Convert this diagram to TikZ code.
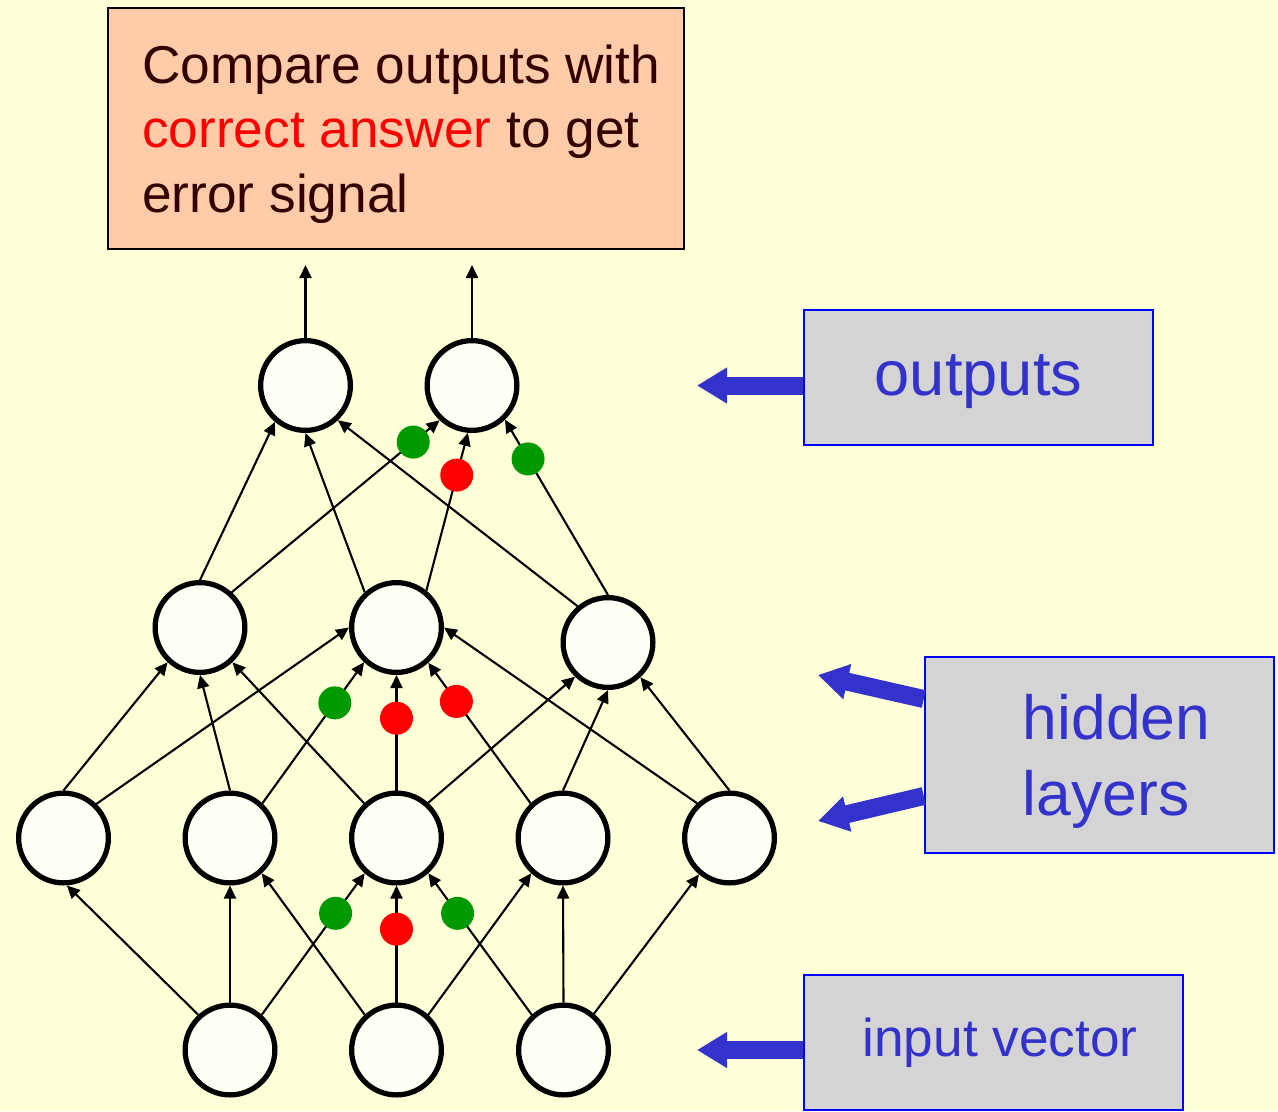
\documentclass[tikz,border=0pt]{standalone}
\usepackage{fontspec}
\setmainfont{Liberation Sans}
\usetikzlibrary{arrows.meta,calc}
\definecolor{bgc}{HTML}{FFFFD8}
\definecolor{peach}{HTML}{FFCBA9}
\definecolor{lblgray}{HTML}{D4D4D4}
\definecolor{lblblue}{HTML}{3333CC}
\definecolor{boxblue}{HTML}{0000FF}
\definecolor{dkred}{HTML}{330000}
\definecolor{dgreen}{HTML}{009900}
\definecolor{neuronfill}{HTML}{FFFFF5}
\begin{document}
\begin{tikzpicture}[x=0.2mm,y=-0.2mm,
  neuron/.style={circle,draw=black,line width=1.05mm,fill=neuronfill,minimum size=17.95mm,inner sep=0pt},
  edge/.style={line width=0.42mm,-{Triangle[length=2.6mm,width=2.4mm]}},
  gdot/.style={circle,fill=dgreen,minimum size=6.6mm,inner sep=0pt},
  rdot/.style={circle,fill=red,minimum size=6.6mm,inner sep=0pt},
  lblbox/.style={draw=boxblue,line width=0.5mm,fill=lblgray,text=lblblue,inner sep=0pt},
  bluearrow/.style={draw=lblblue,line width=3.6mm,-{Triangle[length=6mm,width=6.8mm]}},
]
\fill[bgc] (0,0) rectangle (1278,1111);
\useasboundingbox (0,0) rectangle (1278,1111);

% comparison box
\node[draw=black,line width=0.4mm,fill=peach,minimum width=115.2mm,minimum height=48.2mm,
      inner sep=0pt,text=dkred,align=left,text depth=0pt,font=\fontsize{30.3}{36.6}\selectfont] (cmp) at (396,128.5)
  {\hspace*{2.1mm}Compare outputs with\\\hspace*{2.1mm}\textcolor{red}{correct answer} to get\\\hspace*{2.1mm}error signal};

% neurons
\node[neuron] (o1) at (305.5,385.5) {};
\node[neuron] (o2) at (472,385.5) {};
\node[neuron] (h21) at (200,627.5) {};
\node[neuron] (h22) at (396.5,627.5) {};
\node[neuron] (h23) at (608,642.5) {};
\node[neuron] (a1) at (63.5,838) {};
\node[neuron] (a2) at (230,838) {};
\node[neuron] (a3) at (396.5,838) {};
\node[neuron] (a4) at (563,838) {};
\node[neuron] (a5) at (729.5,838) {};
\node[neuron] (i1) at (230,1050) {};
\node[neuron] (i2) at (396.5,1050) {};
\node[neuron] (i3) at (563.5,1050) {};

% output arrows
\coordinate (u1) at (305.5,265);
\coordinate (u2) at (472,265);
\draw[edge] (o1.north) -- (u1);
\draw[edge] (o2.north) -- (u2);

% hidden 2 -> outputs
\draw[edge] (h21.90) -- (o1.230);
\draw[edge] (h22.132) -- (o1.270);
\draw[edge] (h23.130) -- (o1.313);
\draw[edge] (h21.48) -- node[gdot,pos=0.873] (d1) {} (o2.227);
\draw[edge] (h22.51) -- node[rdot,pos=0.732] (d2) {} (o2.265);
\draw[edge] (h23.90) -- node[gdot,pos=0.776] (d3) {} (o2.314);

% hidden 1 -> hidden 2
\draw[edge] (a1.90) -- (h21.227);
\draw[edge] (a1.46) -- (h22.180);
\draw[edge] (a2.90) -- (h21.270);
\draw[edge] (a3.133) -- (h21.313);
\draw[edge] (a3.48) -- (h23.226);
\draw[edge] (a4.90) -- (h23.270);
\draw[edge] (a5.133) -- (h22.0);
\draw[edge] (a5.90) -- (h23.313);
\draw[edge] (a2.47) -- node[gdot,pos=0.712] (d4) {} (h22.227);
\draw[edge] (a3.90) -- node[rdot,pos=0.626] (d5) {} (h22.270);
\draw[edge] (a4.133) -- node[rdot,pos=0.725] (d6) {} (h22.312);

% input -> hidden 1
\draw[edge] (i1.132) -- (a1.274);
\draw[edge] (i1.90) -- (a2.270);
\draw[edge] (i2.132) -- (a2.312);
\draw[edge] (i2.48) -- (a4.228);
\draw[edge] (i3.90) -- (a4.270);
\draw[edge] (i3.50) -- (a5.230);
\draw[edge] (i1.48) -- node[gdot,pos=0.717] (d7) {} (a3.228);
\draw[edge] (i2.90) -- node[rdot,pos=0.627] (d8) {} (a3.270);
\draw[edge] (i3.132) -- node[gdot,pos=0.717] (d9) {} (a3.312);

% label boxes
\node[lblbox,minimum width=69.8mm,minimum height=27mm,text depth=3pt,font=\fontsize{36}{42}\selectfont] (outlbl) at (978.5,377.5) {outputs};
\node[lblbox,minimum width=69.8mm,minimum height=39.2mm,align=left,text depth=0pt,font=\fontsize{35.5}{43}\selectfont] (hl) at (1099.5,755)
  {\hspace*{6.8mm}hidden\\\hspace*{6.8mm}layers};
\node[lblbox,minimum width=75.8mm,minimum height=27mm,font=\fontsize{30.3}{36}\selectfont] (inlbl) at (993.5,1042.5) {\hspace*{2.6mm}input vector};

% blue pointer arrows
\coordinate (oa) at (697,385.5);
\coordinate (ha1) at (818,675);
\coordinate (ha2) at (818,821);
\coordinate (ia) at (697,1050);
\draw[bluearrow] (outlbl.west |- oa) -- (oa);
\draw[bluearrow] ($(hl.west)+(0,-56)$) -- (ha1);
\draw[bluearrow] ($(hl.west)+(0,41)$) -- (ha2);
\draw[bluearrow] (inlbl.west |- ia) -- (ia);
\end{tikzpicture}
\end{document}
